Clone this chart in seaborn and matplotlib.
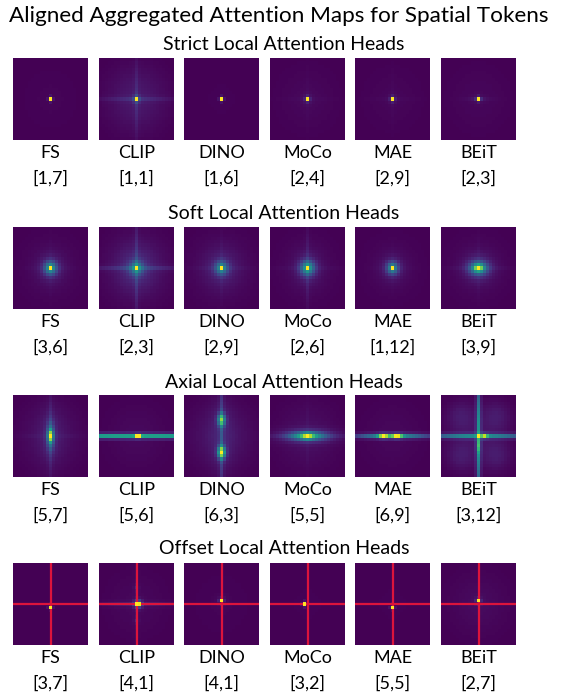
import numpy as np
import seaborn as sns
import matplotlib.pyplot as plt

# Labels
models = ["FS", "CLIP", "DINO", "MoCo", "MAE", "BEiT"]
row_titles = ["Strict Local Attention Heads", "Soft Local Attention Heads",
              "Axial Local Attention Heads", "Offset Local Attention Heads"]
strict_heads = ["[1,7]", "[1,1]", "[1,6]", "[2,4]", "[2,9]", "[2,3]"]
soft_heads = ["[3,6]", "[2,3]", "[2,9]", "[2,6]", "[1,12]", "[3,9]"]
axial_heads = ["[5,7]", "[5,6]", "[6,3]", "[5,5]", "[6,9]", "[3,12]"]
offset_heads = ["[3,7]", "[4,1]", "[4,1]", "[3,2]", "[5,5]", "[2,7]"]

# Map description (25x25 grid, offsets from center cell)
# blobs: (row offset, col offset, sigma_row, sigma_col, weight)
strict_blobs = [
    [(0, 0, 0.4, 0.4, 1.0)],
    [(0, 0, 0.4, 0.4, 1.0), (0, 0, 1.0, 1.0, 0.15)],
    [(0, 0, 0.4, 0.4, 1.0)],
    [(0, 0, 0.4, 0.4, 1.0), (0, 0, 1.2, 1.2, 0.04)],
    [(0, 0, 0.4, 0.4, 1.0), (0, 0, 1.2, 1.2, 0.03)],
    [(0, 0, 0.4, 0.4, 1.0), (0, 0, 0.5, 1.2, 0.08)],
]
soft_blobs = [
    [(0, 0, 0.4, 0.4, 0.5), (0, 0, 1.5, 1.5, 0.45), (0, 0, 3.0, 3.0, 0.08)],
    [(0, 0, 0.4, 0.4, 0.5), (0, 0, 1.5, 1.5, 0.45), (0, 0, 3.5, 3.5, 0.12)],
    [(0, 0, 0.4, 0.4, 0.55), (0, 0, 1.5, 1.5, 0.4), (0, 0, 3.5, 3.5, 0.08)],
    [(0, 0, 0.4, 0.4, 0.45), (0, 0, 1.6, 1.7, 0.5), (0, 0, 3.5, 3.0, 0.08)],
    [(0, 0, 0.4, 0.4, 0.55), (0, 0, 1.4, 1.4, 0.4), (0, 0, 3.0, 3.0, 0.06)],
    [(0, 0, 0.6, 1.0, 0.45), (0, 0, 1.5, 2.1, 0.5), (0, 0, 3.0, 3.5, 0.1)],
]
axial_blobs = [
    [(0, 0, 1.2, 0.55, 0.55), (0, 0, 2.8, 0.9, 0.4), (0, 0, 6.0, 2.5, 0.06)],
    [(0, 0.5, 0.4, 0.6, 0.5)],
    [(5, 0, 1.3, 0.9, 0.9), (-5, 0, 1.3, 0.9, 0.7), (0, 0, 8.0, 2.5, 0.06)],
    [(0, 0, 0.6, 1.2, 0.4), (0, 0, 0.9, 3.8, 0.55), (0, 0, 1.6, 6.5, 0.15)],
    [(0, -3, 0.45, 1.2, 0.5), (0, 1.5, 0.45, 1.2, 0.5)],
    [(0, 2, 0.45, 0.8, 0.45), (3, 0, 1.5, 0.45, 0.2),
     (-6, -6, 3, 3, 0.06), (-6, 6, 3, 3, 0.06), (6, -6, 3, 3, 0.06), (6, 6, 3, 3, 0.06)],
]
offset_blobs = [
    [(1, 0, 0.4, 0.4, 1.0)],
    [(0, 0.5, 0.45, 0.65, 1.0), (0, 0.5, 1.0, 1.0, 0.2), (-5, 0, 0.6, 0.5, 0.08), (5, 0, 0.6, 0.5, 0.08)],
    [(-1, 0, 0.4, 0.4, 1.0), (-1, 0, 1.0, 1.0, 0.06)],
    [(0, -1, 0.4, 0.4, 1.0)],
    [(1, 0, 0.4, 0.4, 1.0)],
    [(-1, 0, 0.4, 0.4, 1.0), (-1, 0, 1.0, 1.0, 0.06)],
]
# streaks through the center: (horizontal weight, vertical weight, decay length)
strict_cross = [(0, 0, 6), (0.1, 0.1, 8), (0, 0, 6), (0.01, 0.01, 6), (0.01, 0.01, 6), (0.02, 0, 4)]
soft_cross = [(0.02, 0.02, 5), (0.15, 0.15, 10), (0.03, 0.03, 6), (0.02, 0.07, 8), (0.01, 0.01, 5), (0.04, 0.02, 6)]
axial_cross = [(0.02, 0.1, 8), (0.45, 0, 80), (0, 0.2, 13), (0.12, 0.02, 8), (0.45, 0, 8.5), (0.45, 0.5, 13)]
offset_cross = [(0, 0, 6), (0.06, 0.03, 9), (0, 0, 6), (0, 0, 6), (0, 0, 6), (0, 0, 6)]
# broad background glow
strict_halo = [0.01, 0.1, 0.005, 0.02, 0.015, 0.02]
soft_halo = [0.03, 0.12, 0.05, 0.03, 0.02, 0.03]
axial_halo = [0.06, 0.02, 0.08, 0.05, 0.02, 0.05]
offset_halo = [0.0, 0.02, 0.01, 0.005, 0.005, 0.03]

N = 25
yy, xx = np.mgrid[0:N, 0:N] - N // 2


def attn_map(blobs, cross, halo):
    m = halo * np.exp(-(xx ** 2 + yy ** 2) / (2 * 7.0 ** 2))
    h, v, d = cross
    m = m + h * np.exp(-yy ** 2 / 0.5) * np.exp(-xx ** 2 / (2 * d ** 2))
    m = m + v * np.exp(-xx ** 2 / 0.5) * np.exp(-yy ** 2 / (2 * d ** 2))
    for dy, dx, sy, sx, w in blobs:
        m = m + w * np.exp(-((yy - dy) ** 2 / (2 * sy ** 2) + (xx - dx) ** 2 / (2 * sx ** 2)))
    return m


rows = [
    (strict_blobs, strict_cross, strict_halo, strict_heads),
    (soft_blobs, soft_cross, soft_halo, soft_heads),
    (axial_blobs, axial_cross, axial_halo, axial_heads),
    (offset_blobs, offset_cross, offset_halo, offset_heads),
]

W, H = 568, 692
fig = plt.figure(figsize=(W / 100, H / 100), dpi=100)
font = ["Lato", "DejaVu Sans"]

fig.text(0.49, 1 - 16 / H, "Aligned Aggregated Attention Maps for Spatial Tokens",
         ha="center", va="center", fontsize=16.2, family=font)

row_tops = [58, 227, 395, 563]
title_ys = [44, 213, 382, 548]
lefts = [13, 99, 184, 270, 355, 441]
pw, ph = 75, 82

for r, (blobs, cross, halo, heads) in enumerate(rows):
    fig.text(0.5, 1 - title_ys[r] / H, row_titles[r], ha="center", va="center",
             fontsize=14, family=font)
    for c in range(6):
        ax = fig.add_axes([lefts[c] / W, 1 - (row_tops[r] + ph) / H, pw / W, ph / H])
        m = attn_map(blobs[c], cross[c], halo[c])
        sns.heatmap(m, ax=ax, cmap="viridis", cbar=False,
                    xticklabels=False, yticklabels=False)
        if r == 3:
            # red crosshair at the query position, peak stays on top
            ax.axhline(N / 2, color="#dc143c", lw=1.6, zorder=2)
            ax.axvline(N / 2, color="#dc143c", lw=1.6, zorder=2)
            sns.heatmap(m, ax=ax, cmap="viridis", cbar=False, mask=m < 0.3 * m.max(),
                        vmin=m.min(), vmax=m.max(), xticklabels=False, yticklabels=False)
            ax.collections[-1].set_zorder(3)
        cx = (lefts[c] + pw / 2) / W
        fig.text(cx, 1 - (row_tops[r] + ph + 13) / H, models[c], ha="center",
                 va="center", fontsize=13, family=font)
        fig.text(cx, 1 - (row_tops[r] + ph + 38) / H, heads[c], ha="center",
                 va="center", fontsize=13, family=font)

fig.savefig("out.png", dpi=100)
